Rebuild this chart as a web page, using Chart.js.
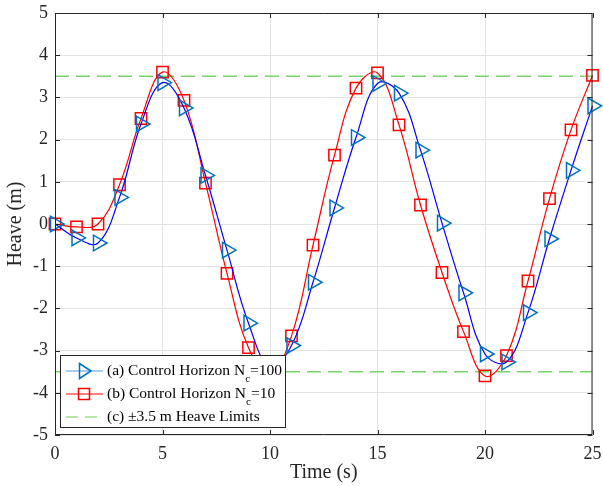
<!DOCTYPE html>
<html>
<head>
<meta charset="utf-8">
<script src="https://cdn.jsdelivr.net/npm/chart.js@4.4.1/dist/chart.umd.min.js"></script>
<style>
  html, body { margin: 0; padding: 0; background: #fff; }
  #wrap { width: 603px; height: 486px; }
</style>
</head>
<body>
<div id="wrap"><canvas id="heaveChart"></canvas></div>
<script>
// ---------------------------------------------
// Data
// ---------------------------------------------
const timeS = [0, 1, 2, 3, 4, 5, 6, 7, 8, 9, 10, 11, 12, 13, 14, 15, 16, 17, 18, 19, 20, 21, 22, 23, 24, 25];

// (a) Control Horizon Nc = 100
const heaveNc100 = [0, -0.33, -0.45, 0.63, 2.37, 3.35, 2.75, 1.15, -0.62, -2.35, -3.38, -2.88, -1.38, 0.38, 2.05, 3.33, 3.1, 1.75, 0.02, -1.63, -3.08, -3.27, -2.1, -0.35, 1.27, 2.8];

// (b) Control Horizon Nc = 10
const heaveNc10 = [0, -0.07, 0.0, 0.93, 2.5, 3.6, 2.93, 0.97, -1.17, -2.93, -3.55, -2.65, -0.5, 1.63, 3.22, 3.58, 2.35, 0.45, -1.15, -2.55, -3.6, -3.12, -1.35, 0.6, 2.23, 3.52];

// (c) heave limits
const heaveLimits = [3.5, -3.5];
const limitSpan = [0, 25];

const xTicks = [0, 5, 10, 15, 20, 25];
const yTicks = [-5, -4, -3, -2, -1, 0, 1, 2, 3, 4, 5];

const SERIF = '"Liberation Serif", "Times New Roman", serif';

// ---------------------------------------------
// Frame with inward ticks (MATLAB style box)
// ---------------------------------------------
const framePlugin = {
    id: 'frame',
    afterDatasetsDraw(chart) {
        const { ctx, chartArea: a, scales } = chart;
        ctx.save();
        ctx.strokeStyle = '#262626';
        ctx.lineWidth = 1;
        ctx.beginPath();
        ctx.rect(a.left + 0.5, a.top + 0.5, a.right - a.left - 1, a.bottom - a.top - 1);
        const tl = 5;
        xTicks.forEach(v => {
            const x = Math.round(scales.x.getPixelForValue(v)) + 0.5;
            ctx.moveTo(x, a.bottom); ctx.lineTo(x, a.bottom - tl);
            ctx.moveTo(x, a.top); ctx.lineTo(x, a.top + tl);
        });
        yTicks.forEach(v => {
            const y = Math.round(scales.y.getPixelForValue(v)) + 0.5;
            ctx.moveTo(a.left, y); ctx.lineTo(a.left + tl, y);
            ctx.moveTo(a.right, y); ctx.lineTo(a.right - tl, y);
        });
        ctx.stroke();
        ctx.restore();
    }
};

// ---------------------------------------------
// Legend box inside the plot (bottom-left)
// ---------------------------------------------
const legendPlugin = {
    id: 'insideLegend',
    afterDraw(chart) {
        const ctx = chart.ctx;
        const box = { x: 60.5, y: 355.5, w: 225, h: 72 };
        ctx.save();
        ctx.fillStyle = '#ffffff';
        ctx.strokeStyle = '#262626';
        ctx.lineWidth = 1;
        ctx.fillRect(box.x, box.y, box.w, box.h);
        ctx.strokeRect(box.x, box.y, box.w, box.h);

        const x0 = 66, x1 = 103, xm = 84, tx = 107;
        const rows = [371, 394, 417];
        ctx.textBaseline = 'middle';
        ctx.textAlign = 'left';

        // row (a)
        ctx.strokeStyle = '#4c9be0';
        ctx.lineWidth = 1.2;
        ctx.beginPath(); ctx.moveTo(x0, rows[0]); ctx.lineTo(x1, rows[0]); ctx.stroke();
        ctx.strokeStyle = '#0072BD';
        ctx.lineWidth = 1.5;
        ctx.beginPath();
        ctx.moveTo(xm + 7, rows[0]);
        ctx.lineTo(xm - 4.5, rows[0] - 7.5);
        ctx.lineTo(xm - 4.5, rows[0] + 7.5);
        ctx.closePath(); ctx.stroke();

        // row (b)
        ctx.strokeStyle = '#ff0000';
        ctx.lineWidth = 1;
        ctx.beginPath(); ctx.moveTo(x0, rows[1]); ctx.lineTo(x1, rows[1]); ctx.stroke();
        ctx.lineWidth = 1.5;
        ctx.strokeRect(xm - 5.5, rows[1] - 5.5, 11, 11);

        // row (c)
        ctx.strokeStyle = '#6fcf4f';
        ctx.lineWidth = 1.2;
        ctx.setLineDash([12, 7]);
        ctx.beginPath(); ctx.moveTo(x0, rows[2]); ctx.lineTo(x1, rows[2]); ctx.stroke();
        ctx.setLineDash([]);

        const labels = chart.data.datasets.map(d => d.label);
        ctx.fillStyle = '#000';
        const big = '15.5px ' + SERIF;
        const drawSub = (pre, sub, post, y) => {
            ctx.font = big;
            ctx.fillText(pre, tx, y);
            let x = tx + ctx.measureText(pre).width;
            ctx.font = '11px ' + SERIF;
            ctx.fillText(sub, x, y + 8);
            x += ctx.measureText(sub).width;
            ctx.font = big;
            ctx.fillText(post, x, y);
        };
        drawSub('(a) Control Horizon N', 'c', '=100', rows[0]);
        drawSub('(b) Control Horizon N', 'c', '=10', rows[1]);
        ctx.font = big;
        ctx.fillText(labels[2], tx, rows[2]);
        ctx.restore();
    }
};

// ---------------------------------------------
// Build chart
// ---------------------------------------------
const toPoints = (xs, ys) => xs.map((x, i) => ({ x: x, y: ys[i] }));

const ctx = document.getElementById('heaveChart');

new Chart(ctx, {
    type: 'line',
    data: {
        datasets: [
            {
                label: '(a) Control Horizon Nc=100',
                data: toPoints(timeS, heaveNc100),
                borderColor: '#0000ff',
                borderWidth: 1.2,
                tension: 0.4,
                pointStyle: 'triangle',
                rotation: 90,
                pointRadius: 9,
                pointBorderColor: '#0072BD',
                pointBackgroundColor: 'rgba(0,0,0,0)',
                pointBorderWidth: 1.5,
                clip: false
            },
            {
                label: '(b) Control Horizon Nc=10',
                data: toPoints(timeS, heaveNc10),
                borderColor: '#ff0000',
                borderWidth: 1.2,
                tension: 0.4,
                pointStyle: 'rect',
                pointRadius: 8,
                pointBorderColor: '#ff0000',
                pointBackgroundColor: 'rgba(0,0,0,0)',
                pointBorderWidth: 1.5,
                clip: false
            },
            {
                label: '(c) \u00b13.5 m Heave Limits',
                data: toPoints(limitSpan, [heaveLimits[0], heaveLimits[0]]),
                borderColor: '#77d36a',
                borderWidth: 1.5,
                borderDash: [14, 7],
                pointRadius: 0
            },
            {
                label: 'lower limit',
                data: toPoints(limitSpan, [heaveLimits[1], heaveLimits[1]]),
                borderColor: '#77d36a',
                borderWidth: 1.5,
                borderDash: [14, 7],
                pointRadius: 0
            }
        ]
    },
    options: {
        responsive: true,
        maintainAspectRatio: false,
        animation: false,
        layout: { padding: { top: 13, right: 10, left: 0, bottom: 0 } },
        plugins: {
            legend: { display: false },
            tooltip: { enabled: false }
        },
        scales: {
            x: {
                type: 'linear',
                min: 0,
                max: 25,
                afterFit: s => {
                    s.height = 51;
                    s.paddingLeft = 0;
                    s.paddingRight = 0;
                },
                afterBuildTicks: s => { s.ticks = xTicks.map(v => ({ value: v })); },
                border: { display: false },
                grid: { color: '#e3e3e3', drawTicks: false },
                ticks: { padding: 8, color: '#262626', font: { family: SERIF, size: 18 } },
                title: {
                    display: true,
                    text: 'Time (s)',
                    color: '#262626',
                    padding: { top: 0, bottom: 1 },
                    font: { family: SERIF, size: 20 }
                }
            },
            y: {
                min: -5,
                max: 5,
                afterFit: s => {
                    s.width = 55;
                    s.paddingTop = 0;
                    s.paddingBottom = 0;
                },
                afterBuildTicks: s => { s.ticks = yTicks.map(v => ({ value: v })); },
                border: { display: false },
                grid: { color: '#e3e3e3', drawTicks: false },
                ticks: { padding: 7, color: '#262626', font: { family: SERIF, size: 18 } },
                title: {
                    display: true,
                    text: 'Heave (m)',
                    color: '#262626',
                    padding: { top: 4, bottom: 0 },
                    font: { family: SERIF, size: 20 }
                }
            }
        }
    },
    plugins: [framePlugin, legendPlugin]
});
</script>
</body>
</html>
